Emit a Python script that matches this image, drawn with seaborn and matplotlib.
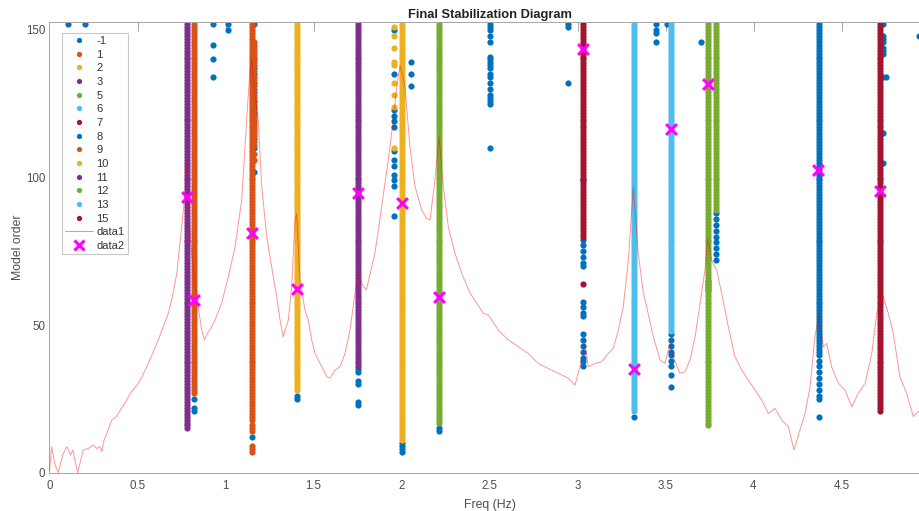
import numpy as np
import pandas as pd
import matplotlib
matplotlib.use("Agg")
import matplotlib.pyplot as plt
import seaborn as sns
from matplotlib.lines import Line2D

sns.set_theme(style="white")
plt.rcParams["font.family"] = ["Liberation Sans", "DejaVu Sans"]

# ---------------------------------------------------------------- data
# cluster ids shown in the legend (gscatter ordering)
label_ids = [-1, 1, 2, 3, 5, 6, 7, 8, 9, 10, 11, 12, 13, 15]

# stable pole columns: cluster, frequency and lowest / highest model order
col_label = [3, 1, 9, 2, 11, 10, 5, 7, 6, 13, 12, 12, 8, 15]
col_freq = [0.779, 0.821, 1.149, 1.404, 1.752, 2.001, 2.214, 3.032,
            3.323, 3.531, 3.742, 3.787, 4.370, 4.719]
col_low = [15, 27, 18, 28, 36, 11, 17, 80, 21, 48, 16, 89, 40, 21]
col_high = [152] * 14

# isolated poles belonging to a cluster
extra_label = [9] * 28 + [9] * 6 + [10] * 9 + [7]
extra_freq = [1.162] * 28 + [1.149] * 6 + [1.959] * 9 + [3.033]
extra_order = [146, 145, 144, 143, 142, 141, 139, 138, 136, 134, 133, 131, 130,
               128, 127, 125, 123, 121, 120, 118, 117, 116, 115, 114, 112, 111,
               108, 106,
               16, 15, 14, 9, 8, 7,
               151, 148, 144, 139, 138, 132, 128, 124, 110,
               64]

# unclustered poles (label -1)
noise_freq = ([0.103, 0.200] + [0.822] * 3 + [0.931] * 4 + [1.016] * 2
              + [1.164] * 13 + [1.149] + [1.404] * 2 + [1.752] * 6
              + [1.959] * 12 + [1.956] + [2.001] * 4 + [2.054] * 3
              + [2.214] * 2 + [2.503] * 19 + [2.948] * 3 + [3.033] * 18
              + [3.323] + [3.446] * 4 + [3.507] + [3.531] * 9 + [3.702]
              + [3.742] * 4 + [3.787] * 9 + [4.370] * 9 + [4.737] * 10
              + [4.751, 4.942])
noise_order = ([152, 152] + [25, 22, 21] + [152, 145, 140, 134] + [152, 150]
               + [152, 140, 137, 135, 132, 129, 126, 124, 122, 119, 113, 110, 102]
               + [12] + [26, 25] + [35, 34, 31, 30, 24, 23]
               + [150, 135, 123, 121, 119, 117, 109, 106, 104, 101, 99, 97] + [87]
               + [10, 9, 8, 7] + [139, 135, 131] + [15, 14]
               + [152, 151, 150, 148, 146, 141, 140, 139, 138, 137, 135, 134,
                  132, 130, 128, 127, 126, 125, 110]
               + [152, 151, 132]
               + [99, 79, 77, 75, 73, 71, 70, 58, 56, 54, 53, 47, 45, 43, 41,
                  39, 38, 36]
               + [19] + [152, 150, 149, 146] + [152]
               + [47, 45, 43, 41, 40, 38, 36, 33, 29] + [146]
               + [65, 64, 63, 62] + [88, 86, 84, 82, 80, 78, 76, 74, 72]
               + [38, 36, 34, 32, 30, 28, 26, 25, 19]
               + [152, 148, 147, 146, 144, 143, 142, 134, 115, 105]
               + [134, 148])

# scaled spectrum (data1)
spec_freq = [0.000, 0.012, 0.030, 0.050, 0.075, 0.098, 0.120, 0.132, 0.160,
             0.192, 0.220, 0.249, 0.268, 0.287, 0.297, 0.310, 0.330, 0.353,
             0.380, 0.400, 0.429, 0.460, 0.505, 0.530, 0.561, 0.590, 0.618,
             0.650, 0.675, 0.700, 0.723, 0.751, 0.770, 0.779, 0.790, 0.808,
             0.836, 0.865, 0.880, 0.902, 0.921, 0.940, 0.978, 1.016, 1.054,
             1.092, 1.120, 1.139, 1.149, 1.160, 1.186, 1.206, 1.234, 1.262,
             1.291, 1.310, 1.328, 1.338, 1.357, 1.376, 1.395, 1.404, 1.423,
             1.452, 1.470, 1.490, 1.508, 1.547, 1.575, 1.594, 1.622, 1.651,
             1.679, 1.707, 1.736, 1.755, 1.775, 1.800, 1.849, 1.887, 1.925,
             1.953, 1.973, 1.992, 2.020, 2.048, 2.077, 2.115, 2.143, 2.162,
             2.190, 2.213, 2.238, 2.266, 2.304, 2.342, 2.390, 2.427, 2.465,
             2.494, 2.513, 2.550, 2.607, 2.664, 2.720, 2.777, 2.834, 2.891,
             2.948, 2.986, 3.014, 3.043, 3.061, 3.100, 3.137, 3.175, 3.203,
             3.232, 3.260, 3.289, 3.317, 3.345, 3.374, 3.393, 3.431, 3.469,
             3.497, 3.526, 3.544, 3.582, 3.611, 3.639, 3.668, 3.696, 3.724,
             3.740, 3.762, 3.791, 3.819, 3.857, 3.895, 3.933, 3.970, 4.009,
             4.047, 4.084, 4.122, 4.160, 4.198, 4.230, 4.264, 4.293, 4.321,
             4.349, 4.372, 4.397, 4.416, 4.444, 4.482, 4.520, 4.558, 4.595,
             4.634, 4.672, 4.700, 4.734, 4.766, 4.794, 4.832, 4.870, 4.908,
             4.946, 4.990]
spec_amp = [0.5, 8.8, 3.0, 0.0, 6.0, 8.8, 6.0, 7.7, 0.0,
            7.7, 8.2, 9.4, 8.2, 8.8, 7.1, 11.0, 14.0, 17.8,
            19.0, 21.0, 23.6, 27.0, 30.3, 33.0, 37.0, 41.0, 45.0,
            50.0, 54.0, 60.0, 67.5, 83.3, 94.6, 104.8, 90.0, 74.0,
            59.6, 48.3, 45.0, 47.7, 49.4, 51.7, 57.4, 66.4, 76.5,
            92.3, 119.4, 136.4, 140.0, 132.0, 119.4, 96.9, 80.0, 69.8,
            59.6, 51.7, 46.0, 48.3, 51.7, 63.0, 85.6, 87.8, 65.3,
            55.0, 51.7, 45.0, 40.4, 35.9, 32.5, 32.0, 34.8, 35.9,
            40.4, 48.3, 60.8, 68.6, 64.0, 61.9, 74.3, 90.0, 105.9,
            119.4, 130.7, 138.0, 130.7, 110.4, 96.9, 89.0, 86.1, 85.6,
            99.1, 113.8, 96.9, 83.3, 74.3, 67.5, 60.8, 57.4, 54.0,
            53.4, 51.7, 48.3, 45.0, 42.7, 40.4, 37.0, 35.3, 33.7,
            32.0, 29.7, 35.9, 43.8, 35.9, 37.0, 37.6, 40.4, 42.1,
            48.3, 56.2, 72.0, 96.9, 74.3, 61.0, 56.2, 46.0, 38.2,
            37.0, 43.8, 39.3, 33.7, 34.2, 38.2, 46.0, 57.4, 68.6,
            79.4, 72.0, 68.6, 60.8, 49.4, 39.3, 34.8, 31.4, 28.0,
            24.6, 20.1, 21.8, 17.8, 15.6, 7.7, 14.5, 20.1, 29.1,
            46.0, 54.0, 42.7, 43.8, 35.9, 30.3, 28.0, 22.3, 26.9,
            30.3, 40.4, 54.0, 60.2, 54.0, 47.2, 32.5, 26.9, 19.0,
            21.2, 22.0]

# selected modes (data2)
peak_freq = [0.779, 0.821, 1.149, 1.404, 1.751, 2.001, 2.215, 3.030,
             3.323, 3.531, 3.740, 4.368, 4.719]
peak_order = [93.5, 58.5, 81.3, 62.4, 94.6, 91.4, 59.4, 143.7,
              35.3, 116.6, 131.6, 102.5, 95.4]

# MATLAB default colour order, cycled over the clusters
color_order = ["#0072BD", "#D95319", "#EDB120", "#7E2F8E",
               "#77AC30", "#4DBEEE", "#A2142F"]

# ---------------------------------------------------------------- table
rows = []
for lab, f, lo, hi in zip(col_label, col_freq, col_low, col_high):
    for o in range(lo, hi + 1):
        rows.append((f, o, lab))
for f, o, lab in zip(extra_freq, extra_order, extra_label):
    rows.append((f, o, lab))
for f, o in zip(noise_freq, noise_order):
    rows.append((f, o, -1))
poles = pd.DataFrame(rows, columns=["freq", "order", "cluster"])

palette = {lab: color_order[i % 7] for i, lab in enumerate(label_ids)}

# ---------------------------------------------------------------- figure
fig = plt.figure(figsize=(9.2, 5.11), dpi=100)
ax = fig.add_axes([49.5 / 920, 38.3 / 511, 880 / 920, 451 / 511])

for lab in label_ids:
    sub = poles[poles["cluster"] == lab]
    sns.scatterplot(data=sub, x="freq", y="order", color=palette[lab],
                    s=20, linewidth=0, ax=ax, legend=False, zorder=1)

sns.lineplot(x=spec_freq, y=spec_amp, color="#ff0000", alpha=0.42,
             linewidth=0.7, sort=False, ax=ax, zorder=3)

sns.scatterplot(x=peak_freq, y=peak_order, marker="x", color="#ff00ff",
                s=60, linewidth=2.2, ax=ax, legend=False, zorder=4)

ax.set_xlim(0, 5)
ax.set_ylim(0, 152.8)
ax.set_xticks(np.arange(0, 4.51, 0.5))
ax.set_xticklabels(["0", "0.5", "1", "1.5", "2", "2.5", "3", "3.5",
                    "4", "4.5"])
ax.set_yticks([0, 50, 100, 150])
ax.set_yticklabels(["0", "50", "100", "150"])

spine_col = "#a6a6a6"
for sp in ax.spines.values():
    sp.set_visible(True)
    sp.set_color(spine_col)
    sp.set_linewidth(0.7)
ax.tick_params(axis="both", direction="in", length=6.5, width=0.7,
               color=spine_col, top=True, right=True, labelsize=8.3,
               labelcolor="#4d4d4d")
ax.tick_params(axis="x", pad=5.5)
ax.tick_params(axis="y", pad=3)

ax.set_title("Final Stabilization Diagram", fontsize=9.3,
             fontweight="bold", color="#222222", pad=3)
ax.set_xlabel("Freq (Hz)", fontsize=8.8, color="#4d4d4d", labelpad=5)
ax.set_ylabel("Model order", fontsize=8.8, color="#4d4d4d", labelpad=1.5)

handles = [Line2D([], [], linestyle="none", marker="o", markersize=3.8,
                  markerfacecolor=palette[lab], markeredgewidth=0,
                  label=str(lab)) for lab in label_ids]
handles.append(Line2D([], [], color="#ff0000", alpha=0.45, linewidth=0.8,
                      label="data1"))
handles.append(Line2D([], [], linestyle="none", marker="x", markersize=7,
                      markeredgewidth=2.2, color="#ff00ff", label="data2"))
leg = ax.legend(handles=handles, loc="upper left",
                bbox_to_anchor=(0.0139, 0.9756), borderaxespad=0,
                fontsize=8, frameon=True, fancybox=False, framealpha=1,
                edgecolor="#c8c8c8", handlelength=2.5, handletextpad=0.3,
                labelspacing=0.33, borderpad=0.3)
leg.get_frame().set_linewidth(0.8)
for t in leg.get_texts():
    t.set_color("#333333")

fig.savefig("out.png", dpi=100)
